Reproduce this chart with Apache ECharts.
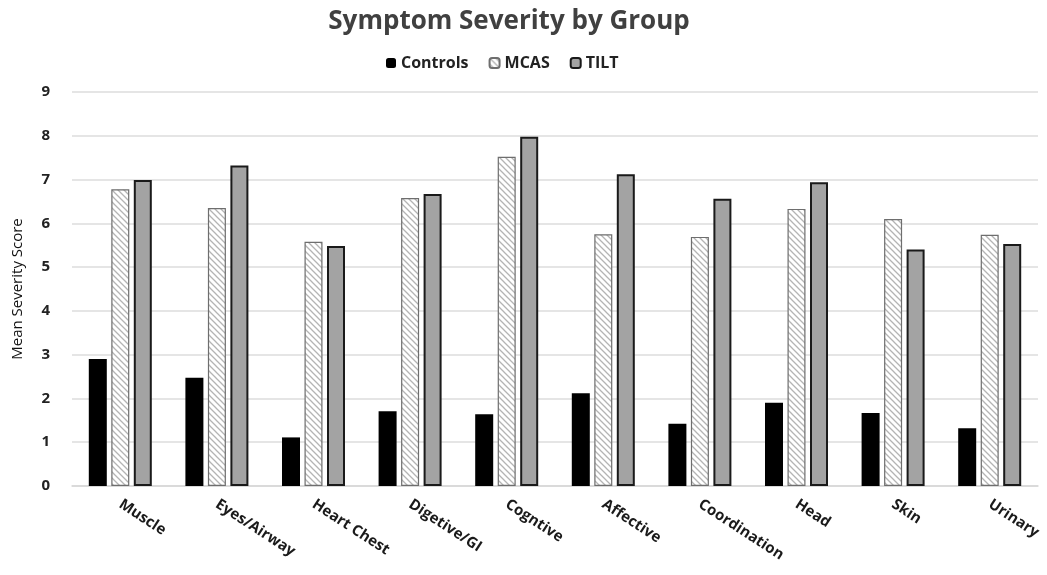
<!DOCTYPE html>
<html>
<head>
<meta charset="utf-8">
<script src="https://cdn.jsdelivr.net/npm/echarts@6/dist/echarts.min.js"></script>
<style>
  html, body { margin: 0; padding: 0; background: #ffffff; }
  #chart { width: 1047px; height: 575px; }
</style>
</head>
<body>
<div id="chart"></div>
<script>
// Symptom domains on the x axis
const categories = ['Muscle', 'Eyes/Airway', 'Heart Chest', 'Digetive/GI', 'Cogntive',
  'Affective', 'Coordination', 'Head', 'Skin', 'Urinary'];

// Mean severity scores per group
const controls = [2.9, 2.47, 1.11, 1.71, 1.64, 2.12, 1.42, 1.9, 1.67, 1.32];
const mcas     = [6.78, 6.35, 5.58, 6.58, 7.52, 5.75, 5.69, 6.33, 6.1, 5.74];
const tilt     = [6.99, 7.32, 5.48, 6.67, 7.98, 7.12, 6.56, 6.94, 5.4, 5.53];

const yTicks = [0, 1, 2, 3, 4, 5, 6, 7, 8, 9];

// Diagonal hatch fill used for the MCAS bars
function hatchPattern() {
  const s = 6;
  const c = document.createElement('canvas');
  c.width = s; c.height = s;
  const g = c.getContext('2d');
  g.fillStyle = '#ffffff';
  g.fillRect(0, 0, s, s);
  g.strokeStyle = '#b4b4b4';
  g.lineWidth = 1.3;
  g.beginPath();
  g.moveTo(0, 0); g.lineTo(s, s);
  g.moveTo(-1, s - 1); g.lineTo(1, s + 1);
  g.moveTo(s - 1, -1); g.lineTo(s + 1, 1);
  g.stroke();
  return { image: c, repeat: 'repeat' };
}

const font = '"Open Sans", "DejaVu Sans", sans-serif';
const chart = echarts.init(document.getElementById('chart'), null, { renderer: 'canvas' });

chart.setOption({
  backgroundColor: '#ffffff',
  animation: false,
  title: {
    text: 'Symptom Severity by Group',
    left: 504,
    textAlign: 'center',
    top: 4,
    textStyle: { fontFamily: font, fontSize: 26, fontWeight: 'bold', color: '#404040' }
  },
  legend: {
    top: 50,
    left: 381,
    itemWidth: 10,
    itemHeight: 10,
    itemGap: 20,
    textStyle: { fontFamily: font, fontSize: 16, fontWeight: 'bold', color: '#222' },
    data: ['Controls', 'MCAS', 'TILT']
  },
  grid: { left: 72, right: 9, top: 92, bottom: 89, outerBoundsMode: 'none', containLabel: false },
  xAxis: {
    type: 'category',
    data: categories,
    axisLine: { lineStyle: { color: '#d6d6d6', width: 1.5 } },
    axisTick: { show: false },
    axisLabel: {
      rotate: -33,
      margin: 17,
      fontFamily: font,
      fontSize: 15,
      fontWeight: 'bold',
      color: '#1a1a1a',
      interval: 0
    }
  },
  yAxis: {
    type: 'value',
    min: yTicks[0],
    max: yTicks[yTicks.length - 1],
    interval: 1,
    name: 'Mean Severity Score',
    nameLocation: 'middle',
    nameGap: 47,
    nameTextStyle: { fontFamily: font, fontSize: 15, color: '#111' },
    axisLine: { show: false },
    axisTick: { show: false },
    axisLabel: { margin: 22, fontFamily: font, fontSize: 15, fontWeight: 'bold', color: '#222' },
    splitLine: { lineStyle: { color: '#dcdcdc', width: 1.5 } }
  },
  series: [
    {
      name: 'Controls',
      type: 'bar',
      data: controls,
      barWidth: 18,
      barGap: '25%',
      itemStyle: { color: '#000000' }
    },
    {
      name: 'MCAS',
      type: 'bar',
      data: mcas,
      barWidth: 18,
      barGap: '25%',
      itemStyle: { color: hatchPattern(), borderColor: '#6e6e6e', borderWidth: 1.2 }
    },
    {
      name: 'TILT',
      type: 'bar',
      data: tilt,
      barWidth: 18,
      barGap: '25%',
      itemStyle: { color: '#a3a3a3', borderColor: '#1a1a1a', borderWidth: 2 }
    }
  ]
});
</script>
</body>
</html>
